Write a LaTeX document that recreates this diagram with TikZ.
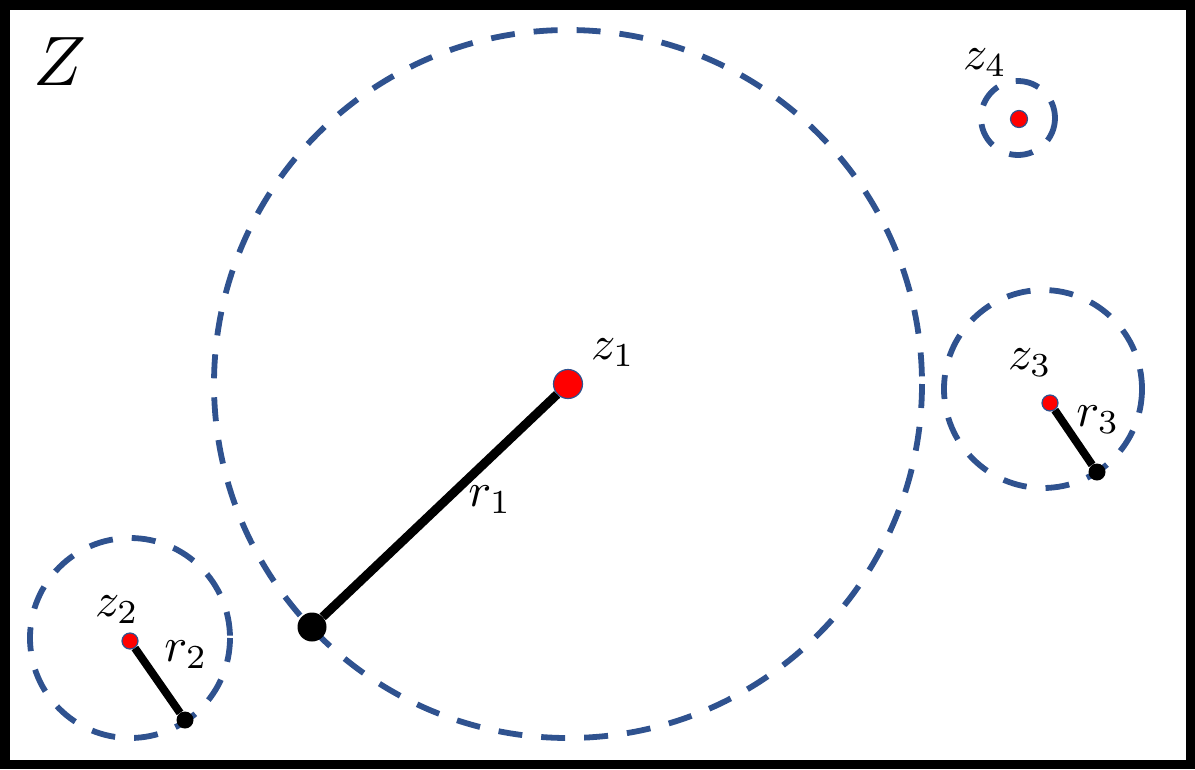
\documentclass[tikz,border=0pt]{standalone}
\usepackage{amsmath}
\definecolor{ringblue}{HTML}{2F528F}
\definecolor{dotred}{HTML}{FF0000}
\newcommand{\biglbl}[1]{\scalebox{4.8}{$#1$}}
\begin{document}
\begin{tikzpicture}[x=1pt,y=-1pt,
  ring/.style={draw=ringblue,line width=5.8pt,dash pattern=on 24pt off 19pt},
  reddot/.style={circle,fill=dotred,draw=ringblue,line width=1.2pt,inner sep=0pt},
  blackdot/.style={circle,fill=black,inner sep=0pt},
  radius line/.style={draw=black,line width=8pt},
  lbl/.style={inner sep=0pt}
]
\useasboundingbox (0,0) rectangle (1195,769);
\draw[line width=9.5pt] (4.75,4.75) rectangle (1190.25,764.25);
% rings
\draw[ring] (568,384) circle (354);
\draw[ring] (130,638) circle (100);
\draw[ring] (1043,389) circle (99);
\draw[ring] (1018,118) circle (37);
% dots
\node[reddot,minimum size=29pt] (z1) at (568,384) {};
\node[blackdot,minimum size=29pt] (b1) at (312,627) {};
\node[reddot,minimum size=16pt] (z2) at (130,641) {};
\node[blackdot,minimum size=17pt] (b2) at (185,720) {};
\node[reddot,minimum size=16pt] (z3) at (1050,403) {};
\node[blackdot,minimum size=17pt] (b3) at (1097,472) {};
\node[reddot,minimum size=17pt] (z4) at (1019,119) {};
% radii
\draw[radius line,line width=9pt] (z1) -- (b1);
\draw[radius line] (z2) -- (b2);
\draw[radius line] (z3) -- (b3);
% labels
\node[lbl] (Zl) at (60,62) {\scalebox{7}{$Z$}};
\node[lbl] (l1) at (613,353) {\biglbl{z_1}};
\node[lbl] (lr1) at (490,500) {\biglbl{r_1}};
\node[lbl] (l2) at (117,610) {\biglbl{z_2}};
\node[lbl] (lr2) at (186,655) {\biglbl{r_2}};
\node[lbl] (l3) at (1030,363) {\biglbl{z_3}};
\node[lbl] (lr3) at (1098,420) {\biglbl{r_3}};
\node[lbl] (l4) at (985,63) {\biglbl{z_4}};
\end{tikzpicture}
\end{document}
